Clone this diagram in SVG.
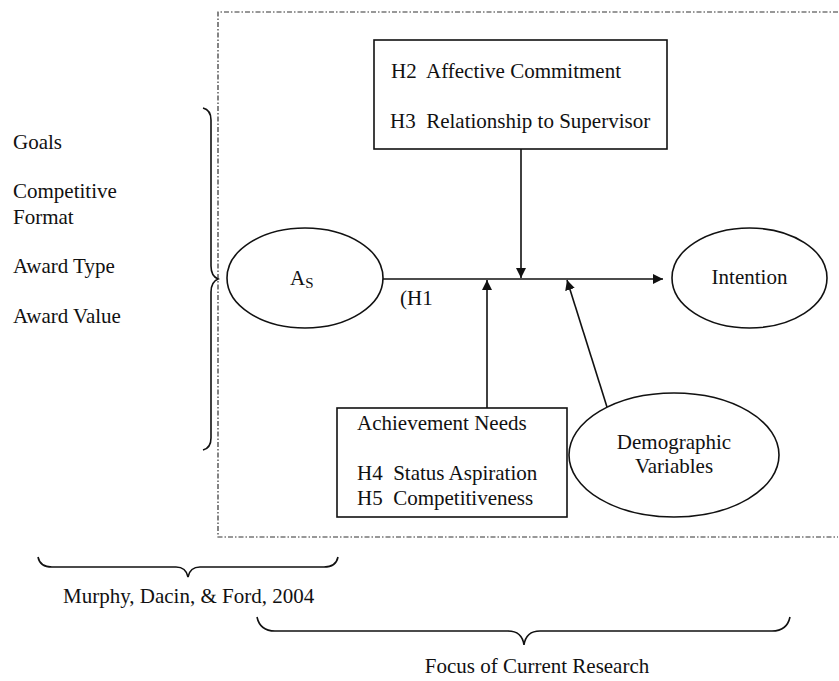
<svg xmlns="http://www.w3.org/2000/svg" width="839" height="681" viewBox="0 0 839 681">
<style>
text{font-family:"Liberation Serif","Times New Roman",serif;font-size:21px;fill:#111}
.ln{stroke:#111;stroke-width:1.6;fill:none}
.nd{stroke:#111;stroke-width:1.6;fill:#fff}
.dash{stroke:#333;stroke-width:1.2;fill:none;stroke-dasharray:5 2 1.5 2}
</style>
<defs>
<marker id="ah" viewBox="0 0 10 10" refX="10" refY="5" markerWidth="10" markerHeight="10" markerUnits="userSpaceOnUse" orient="auto">
<path d="M0,0 L10,5 L0,10 Z" fill="#111"/>
</marker>
</defs>
<rect width="839" height="681" fill="#fff"/>
<path class="dash" d="M838,12 H218 V537 H838"/>
<g id="left-factors">
<text x="13" y="149">Goals</text>
<text x="13" y="198">Competitive</text>
<text x="13" y="224">Format</text>
<text x="13" y="273">Award Type</text>
<text x="13" y="323">Award Value</text>
<path class="ln" d="M203,108 Q211,110 211,120 V266 Q211,276 218,279 Q211,282 211,292 V438 Q211,448 203,450"/>
</g>
<g id="connectors">
<line class="ln" x1="383" y1="279" x2="663" y2="279" marker-end="url(#ah)"/>
<line class="ln" x1="521" y1="149" x2="521" y2="278" marker-end="url(#ah)"/>
<line class="ln" x1="487" y1="408" x2="487" y2="280" marker-end="url(#ah)"/>
<line class="ln" x1="607" y1="407" x2="567" y2="280" marker-end="url(#ah)"/>
</g>
<g id="h1-label"><text x="400" y="305">(H1</text></g>
<g id="node-as">
<ellipse class="nd" cx="305" cy="278" rx="78" ry="50"/>
<text x="290" y="285">A<tspan font-size="15" dy="3">S</tspan></text>
</g>
<g id="node-intention">
<ellipse class="nd" cx="749.5" cy="278" rx="77.5" ry="50"/>
<text x="749.5" y="284" text-anchor="middle">Intention</text>
</g>
<g id="node-h2h3">
<rect class="nd" x="374" y="40" width="293" height="109"/>
<text x="391" y="78" xml:space="preserve">H2  Affective Commitment</text>
<text x="390" y="128" xml:space="preserve">H3  Relationship to Supervisor</text>
</g>
<g id="node-achievement">
<rect class="nd" x="337" y="408" width="230" height="109"/>
<text x="357" y="430">Achievement Needs</text>
<text x="357" y="480" xml:space="preserve">H4  Status Aspiration</text>
<text x="357" y="505" xml:space="preserve">H5  Competitiveness</text>
</g>
<g id="node-demographic">
<ellipse class="nd" cx="674" cy="455" rx="105" ry="62"/>
<text x="674" y="449" text-anchor="middle">Demographic</text>
<text x="674" y="473" text-anchor="middle">Variables</text>
</g>
<g id="murphy">
<path class="ln" d="M38,557 Q40,567 52,567 H176 Q186,567 188,577 Q190,567 200,567 H324 Q336,567 338,557"/>
<text x="63" y="603">Murphy, Dacin, &amp; Ford, 2004</text>
</g>
<g id="focus">
<path class="ln" d="M257,617 Q260,631 275,631 H508 Q522,631 524,645 Q526,631 540,631 H772 Q787,631 790,617"/>
<text x="537" y="673" text-anchor="middle">Focus of Current Research</text>
</g>
</svg>
